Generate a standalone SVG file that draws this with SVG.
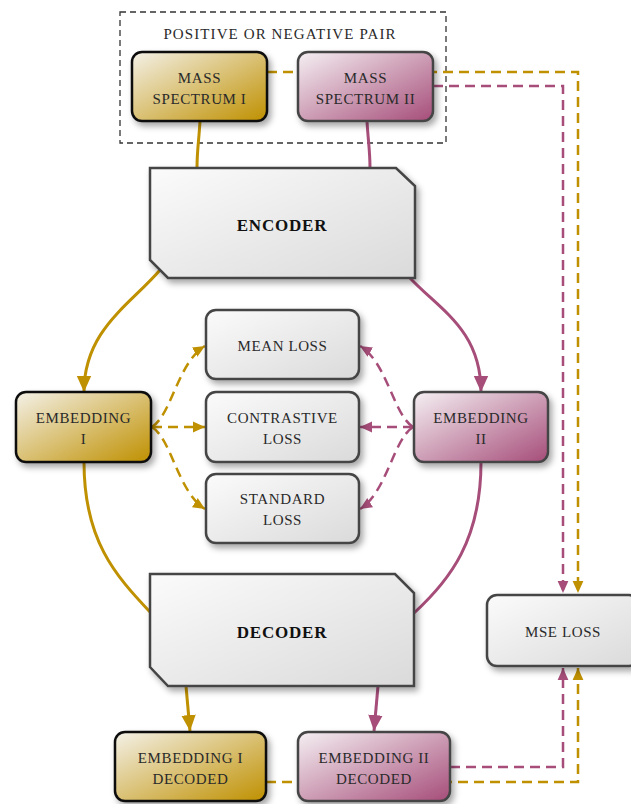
<svg xmlns="http://www.w3.org/2000/svg" width="631" height="804" viewBox="0 0 631 804">
<defs>
<linearGradient id="gGold" x1="0" y1="0" x2="1" y2="1"><stop offset="0" stop-color="#f4f1e8"/><stop offset="1" stop-color="#bf9000"/></linearGradient>
<linearGradient id="gPink" x1="0" y1="0" x2="1" y2="1"><stop offset="0" stop-color="#f5f0f3"/><stop offset="1" stop-color="#a64d79"/></linearGradient>
<linearGradient id="gGrey" x1="0" y1="0" x2="1" y2="1"><stop offset="0" stop-color="#fbfbfb"/><stop offset="1" stop-color="#dadada"/></linearGradient>
<filter id="sh" x="-20%" y="-20%" width="150%" height="150%"><feDropShadow dx="3" dy="4" stdDeviation="3" flood-color="#000" flood-opacity="0.35"/></filter>
<marker id="aG" viewBox="0 0 10 10" refX="10" refY="5" markerWidth="16" markerHeight="16" markerUnits="userSpaceOnUse" orient="auto"><path d="M0,0.5 L10,5 L0,9.5 z" fill="#bf9000"/></marker>
<marker id="aP" viewBox="0 0 10 10" refX="10" refY="5" markerWidth="16" markerHeight="16" markerUnits="userSpaceOnUse" orient="auto"><path d="M0,0.5 L10,5 L0,9.5 z" fill="#a64d79"/></marker>
<marker id="aGs" viewBox="0 0 10 10" refX="10" refY="5" markerWidth="12" markerHeight="12" markerUnits="userSpaceOnUse" orient="auto"><path d="M0,0.5 L10,5 L0,9.5 z" fill="#bf9000"/></marker>
<marker id="aPs" viewBox="0 0 10 10" refX="10" refY="5" markerWidth="12" markerHeight="12" markerUnits="userSpaceOnUse" orient="auto"><path d="M0,0.5 L10,5 L0,9.5 z" fill="#a64d79"/></marker>
</defs>
<style>
.t{font-family:"Liberation Serif","DejaVu Serif",serif;font-size:15px;fill:#2a2a2a;text-anchor:middle;letter-spacing:0.6px}
.b{font-family:"Liberation Serif","DejaVu Serif",serif;font-size:17px;font-weight:bold;fill:#111;text-anchor:middle;letter-spacing:0.8px}
.gold{fill:url(#gGold);stroke:#111;stroke-width:2.5}
.pink{fill:url(#gPink);stroke:#444;stroke-width:2.5}
.grey{fill:url(#gGrey);stroke:#444;stroke-width:2.5}
.sg{fill:none;stroke:#bf9000;stroke-width:3}
.sp{fill:none;stroke:#a64d79;stroke-width:3}
.dg{fill:none;stroke:#bf9000;stroke-width:2.5;stroke-dasharray:10,6}
.dp{fill:none;stroke:#a64d79;stroke-width:2.5;stroke-dasharray:10,6}
</style>
<g id="pair-frame">
<rect x="120" y="12" width="326" height="131" fill="none" stroke="#333" stroke-width="1.3" stroke-dasharray="6,4"/>
<text class="t" x="280" y="39" style="letter-spacing:1.1px">POSITIVE OR NEGATIVE PAIR</text>
</g>
<g id="connectors">
<path class="dg" d="M267,72 L578,72 L578,593" marker-end="url(#aGs)"/>
<path class="dp" d="M433,86 L563,86 L563,593" marker-end="url(#aPs)"/>
<path class="dp" d="M450,767 L563,767 L563,668" marker-end="url(#aPs)"/>
<path class="dg" d="M266,782 L578,782 L578,668" marker-end="url(#aGs)"/>
<path class="sg" d="M200,121 C199,140 197,150 197,168"/>
<path class="sp" d="M367,121 C368,140 370,150 370,168"/>
<path class="sg" d="M160,270 C130,305 84,330 84,392" marker-end="url(#aG)"/>
<path class="sp" d="M410,278 C440,310 481,330 481,392" marker-end="url(#aP)"/>
<path class="dg" d="M152,427 C172,414 178,362 205,346" marker-end="url(#aGs)"/>
<path class="dg" d="M152,427 L205,427" marker-end="url(#aGs)"/>
<path class="dg" d="M152,427 C172,440 178,492 205,509" marker-end="url(#aGs)"/>
<path class="dp" d="M413,427 C393,414 387,362 360,346" marker-end="url(#aPs)"/>
<path class="dp" d="M413,427 L360,427" marker-end="url(#aPs)"/>
<path class="dp" d="M413,427 C393,440 387,492 360,509" marker-end="url(#aPs)"/>
<path class="sg" d="M84,462 C84,540 115,575 150,612"/>
<path class="sp" d="M481,462 C481,540 450,580 414,613"/>
<path class="sg" d="M186,686 L190,731" marker-end="url(#aG)"/>
<path class="sp" d="M378,686 L374,731" marker-end="url(#aP)"/>
</g>
<g id="mass-spectrum-1">
<rect class="gold" x="132" y="52" width="135" height="69" rx="10" filter="url(#sh)"/>
<text class="t" x="199.5" y="83">MASS</text>
<text class="t" x="199.5" y="104">SPECTRUM I</text>
</g>
<g id="mass-spectrum-2">
<rect class="pink" x="298" y="52" width="135" height="69" rx="10" filter="url(#sh)"/>
<text class="t" x="365.5" y="83">MASS</text>
<text class="t" x="365.5" y="104">SPECTRUM II</text>
</g>
<g id="encoder">
<path class="grey" d="M150,168 L396,168 L415,186 L415,278 L168,278 L150,260 Z" filter="url(#sh)"/>
<text class="b" x="282" y="231">ENCODER</text>
</g>
<g id="embedding-1">
<rect class="gold" x="16" y="392" width="135" height="70" rx="10" filter="url(#sh)"/>
<text class="t" x="83.5" y="423">EMBEDDING</text>
<text class="t" x="83.5" y="444">I</text>
</g>
<g id="embedding-2">
<rect class="pink" x="414" y="392" width="134" height="70" rx="10" filter="url(#sh)"/>
<text class="t" x="481" y="423">EMBEDDING</text>
<text class="t" x="481" y="444">II</text>
</g>
<g id="mean-loss">
<rect class="grey" x="206" y="310" width="153" height="69" rx="10" filter="url(#sh)"/>
<text class="t" x="282.5" y="351">MEAN LOSS</text>
</g>
<g id="contrastive-loss">
<rect class="grey" x="206" y="392" width="153" height="70" rx="10" filter="url(#sh)"/>
<text class="t" x="282.5" y="423">CONTRASTIVE</text>
<text class="t" x="282.5" y="444">LOSS</text>
</g>
<g id="standard-loss">
<rect class="grey" x="206" y="474" width="153" height="69" rx="10" filter="url(#sh)"/>
<text class="t" x="282.5" y="504">STANDARD</text>
<text class="t" x="282.5" y="525">LOSS</text>
</g>
<g id="decoder">
<path class="grey" d="M150,574 L395,574 L414,593 L414,686 L168,686 L150,667 Z" filter="url(#sh)"/>
<text class="b" x="282" y="638">DECODER</text>
</g>
<g id="mse-loss">
<rect class="grey" x="487" y="595" width="152" height="71" rx="10" filter="url(#sh)"/>
<text class="t" x="563" y="637">MSE LOSS</text>
</g>
<g id="embedding-1-decoded">
<rect class="gold" x="115" y="732" width="151" height="69" rx="10" filter="url(#sh)"/>
<text class="t" x="190.5" y="763">EMBEDDING I</text>
<text class="t" x="190.5" y="784">DECODED</text>
</g>
<g id="embedding-2-decoded">
<rect class="pink" x="298" y="732" width="152" height="69" rx="10" filter="url(#sh)"/>
<text class="t" x="374" y="763">EMBEDDING II</text>
<text class="t" x="374" y="784">DECODED</text>
</g>
</svg>
